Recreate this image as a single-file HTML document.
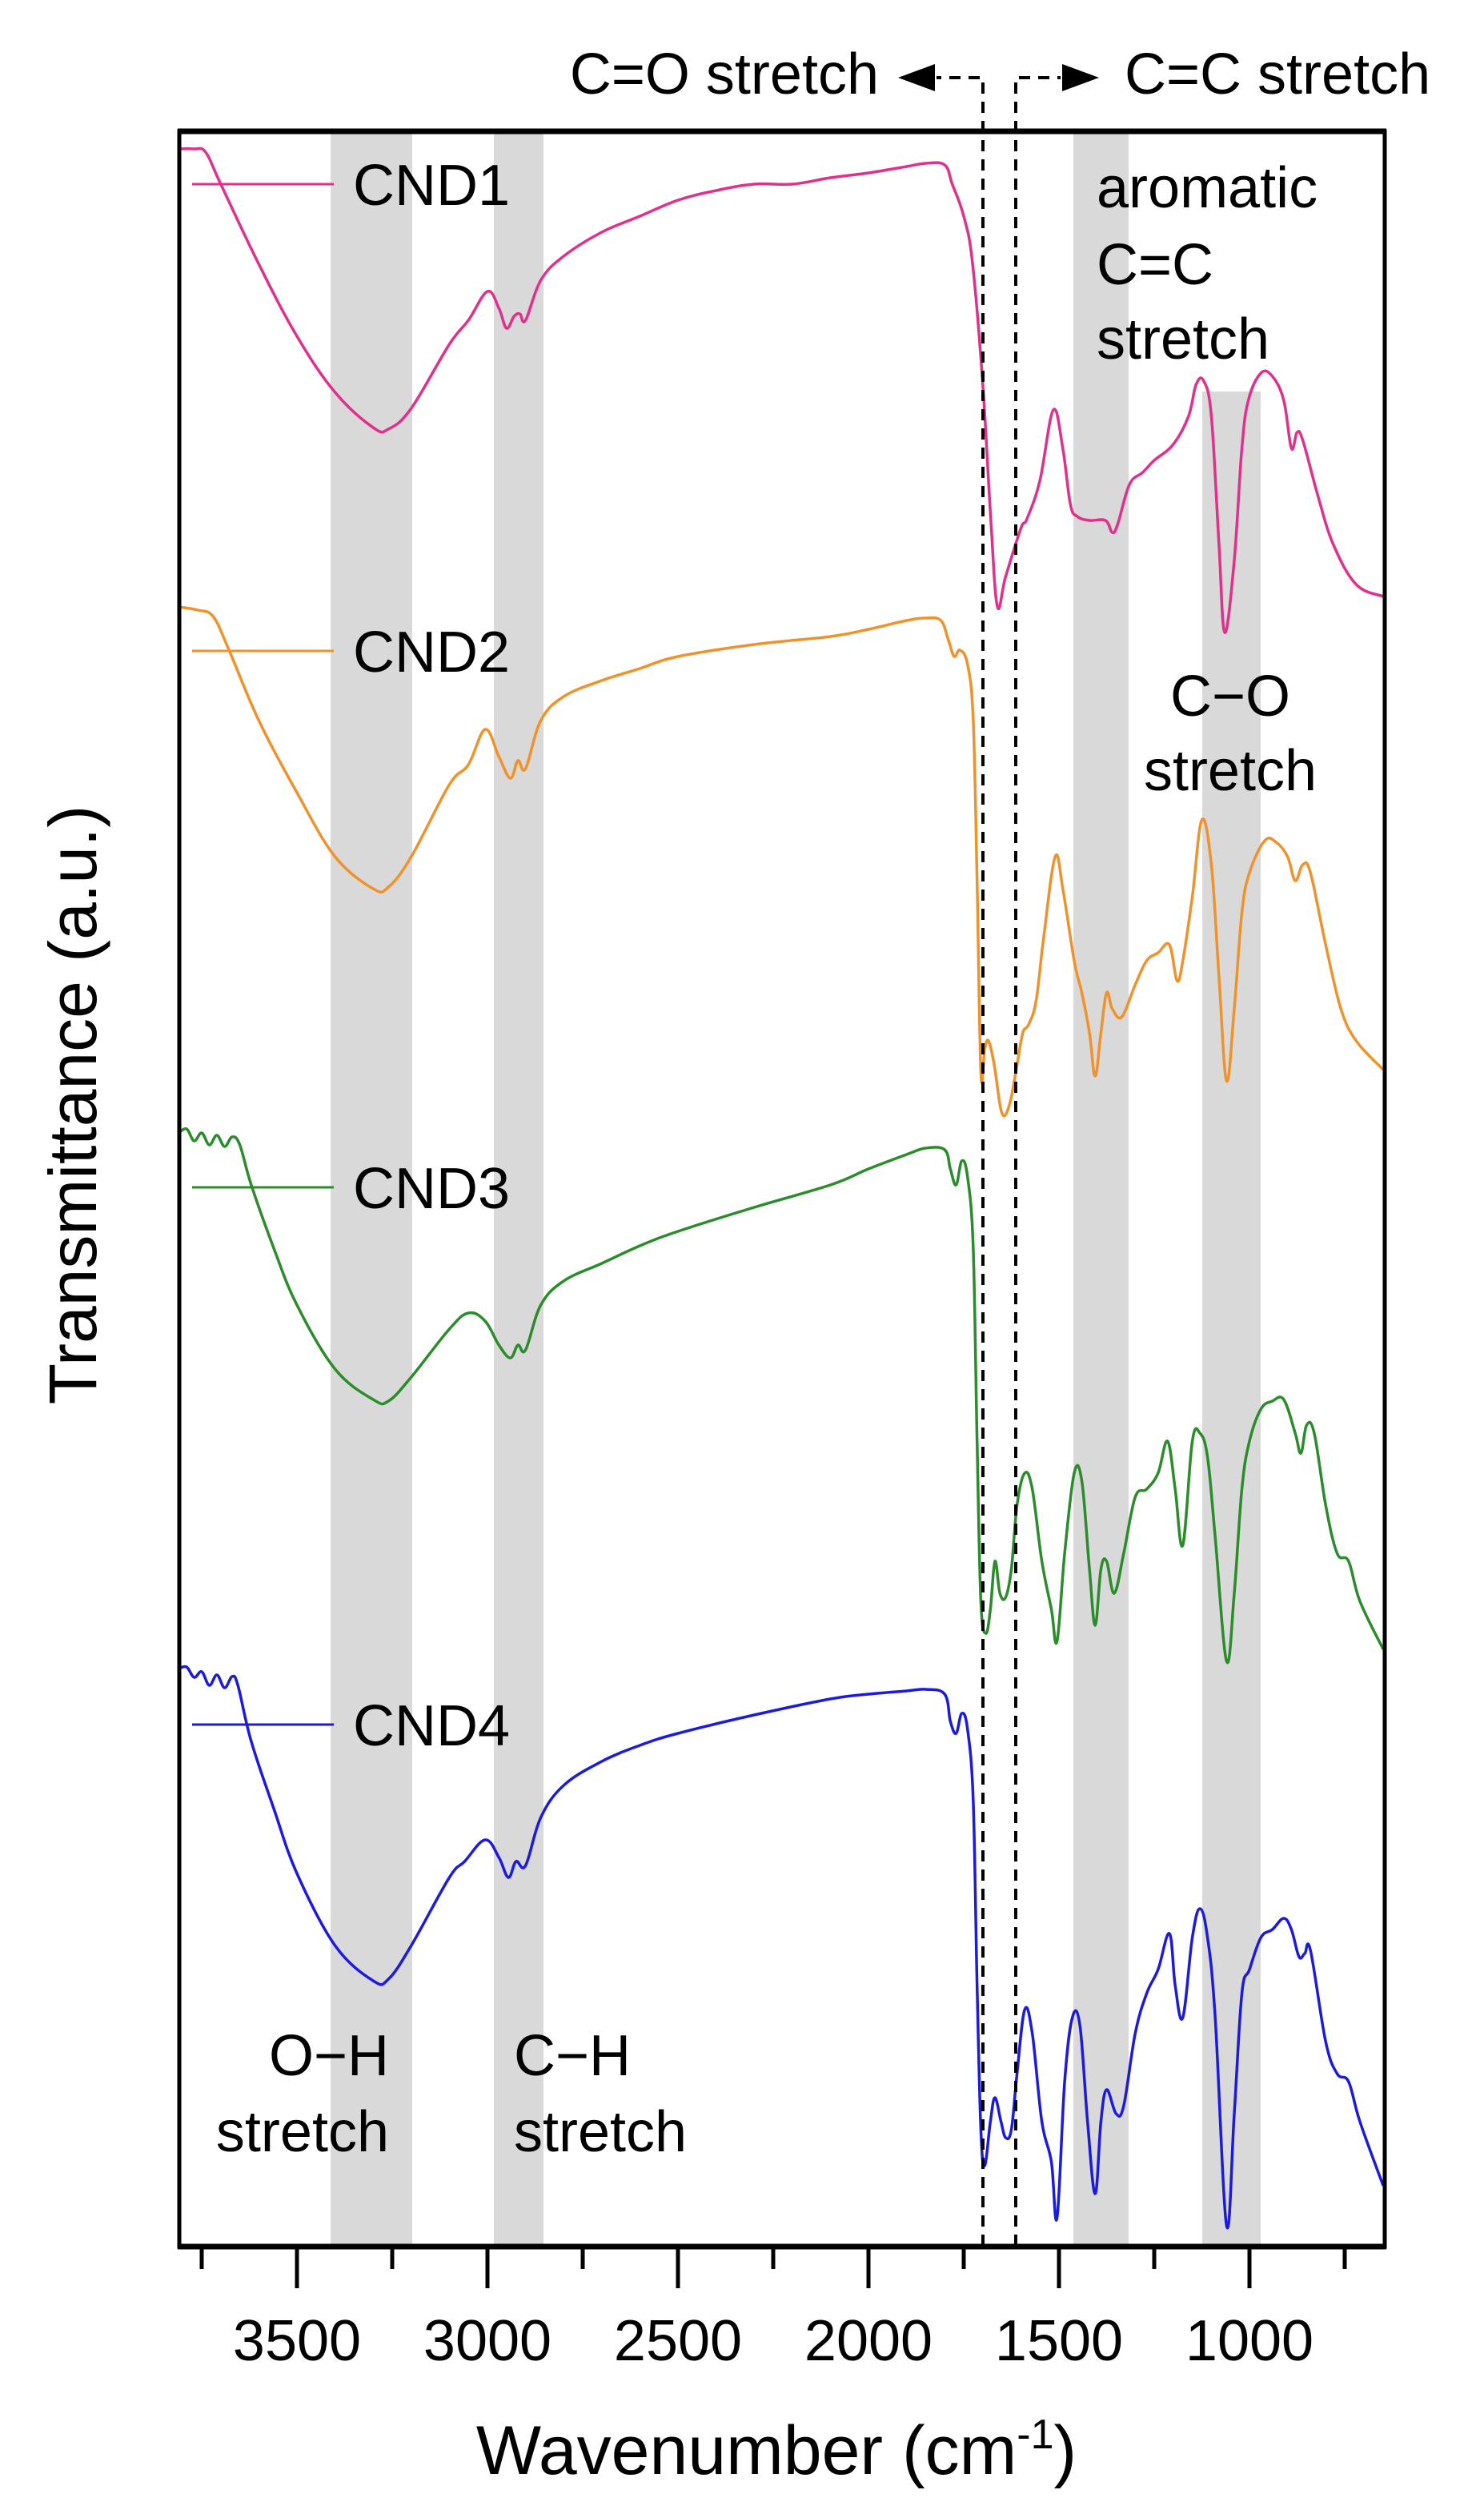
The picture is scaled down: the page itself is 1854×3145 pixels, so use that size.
<!DOCTYPE html>
<html><head><meta charset="utf-8"><style>
html,body{margin:0;padding:0;background:#fff}
svg{display:block}
text{font-family:"Liberation Sans",Arial,sans-serif;fill:#000}
</style></head><body>
<svg id="s" width="1854" height="3145" viewBox="0 0 1854 3145" xmlns="http://www.w3.org/2000/svg">
<rect width="1854" height="3145" fill="#fff"/>
<g fill="#d9d9d9">
<rect x="413" y="166" width="102" height="2639"/>
<rect x="617" y="166" width="62" height="2639"/>
<rect x="1341" y="166" width="69" height="2639"/>
<rect x="1502" y="489" width="73" height="2316"/>
</g>
<g id="curves" fill="none" stroke-width="3.5" stroke-linejoin="round"></g>
<g stroke-width="3">
<line x1="240" y1="230" x2="417" y2="230" stroke="#e0308c"/>
<line x1="240" y1="813" x2="417" y2="813" stroke="#f0922c"/>
<line x1="240" y1="1483" x2="417" y2="1483" stroke="#2a8c2a"/>
<line x1="240" y1="2154" x2="417" y2="2154" stroke="#1a1ae0"/>
</g>
<g font-size="72" fill="#222">
<text x="441" y="256">CND1</text>
<text x="441" y="839">CND2</text>
<text x="441" y="1509">CND3</text>
<text x="441" y="2180">CND4</text>
</g>
<g stroke="#000" stroke-width="4" stroke-dasharray="14,10" fill="none">
<polyline points="1228,2805 1228,97 1170,97"/>
<polyline points="1269,2805 1269,97 1325,97"/>
</g>
<polygon points="1122,97 1168,80 1168,114" fill="#000"/>
<polygon points="1373,97 1327,80 1327,114" fill="#000"/>
<rect x="224" y="164" width="1506" height="2642" fill="none" stroke="#000" stroke-width="5"/>
<line x1="222" y1="164" x2="1732" y2="164" stroke="#000" stroke-width="7"/>
<line x1="222" y1="2806" x2="1732" y2="2806" stroke="#000" stroke-width="7"/>
<g id="ticks" stroke="#000" stroke-width="5"></g>
<g font-size="72">
<text x="1098" y="117" text-anchor="end">C=O stretch</text>
<text x="1405" y="117">C=C stretch</text>
<text x="1370" y="259">aromatic</text>
<text x="1370" y="355">C=C</text>
<text x="1370" y="448">stretch</text>
<text x="1537" y="894" text-anchor="middle">C−O</text>
<text x="1537" y="987" text-anchor="middle">stretch</text>
<text x="486" y="2592" text-anchor="end">O−H</text>
<text x="486" y="2687" text-anchor="end">stretch</text>
<text x="642" y="2592">C−H</text>
<text x="642" y="2687">stretch</text>
</g>
<g font-size="72" text-anchor="middle" id="tl"></g>
<text x="970" y="3090" font-size="86" text-anchor="middle">Wavenumber (cm<tspan dy="-32" font-size="52">-1</tspan><tspan dy="32">)</tspan></text>
<text transform="translate(120,1380) rotate(-90)" font-size="84" text-anchor="middle">Transmittance (a.u.)</text>
</svg>
<script>
var NS="http://www.w3.org/2000/svg";
function X(w){return 1561+(1000-w)*0.476;}
var tk=document.getElementById("ticks"),tl=document.getElementById("tl");
for(var w=3750;w>=750;w-=250){var maj=(w%500==0);var l=document.createElementNS(NS,"line");var x=X(w);
l.setAttribute("x1",x);l.setAttribute("x2",x);l.setAttribute("y1",2806);l.setAttribute("y2",maj?2858:2834);tk.appendChild(l);
if(maj){var t=document.createElementNS(NS,"text");t.setAttribute("x",x);t.setAttribute("y",2948);t.textContent=w;tl.appendChild(t);}}
var data={
"#e0308c":[[3813,186],[3770,186],[3740,190],[3700,230],[3600,330],[3500,420],[3400,490],[3300,534],[3260,536],[3200,510],[3100,430],[3050,400],[3000,364],[2970,385],[2950,410],[2930,395],[2915,392],[2900,400],[2860,350],[2800,320],[2700,290],[2600,270],[2500,250],[2400,238],[2300,230],[2200,230],[2100,222],[2000,216],[1900,208],[1850,204],[1800,206],[1780,230],[1750,270],[1727,328],[1700,480],[1680,640],[1662,757],[1640,720],[1600,660],[1584,648],[1550,600],[1515,512],[1490,560],[1470,630],[1452,645],[1420,650],[1378,650],[1360,665],[1346,655],[1315,605],[1280,590],[1250,575],[1200,555],[1160,520],[1140,480],[1120,476],[1100,520],[1080,680],[1065,790],[1040,700],[1020,560],[1003,500],[970,466],[940,470],[910,500],[890,560],[875,540],[860,550],[820,620],[780,680],[720,730],[649,745]],
"#f0922c":[[3813,758],[3760,762],[3720,770],[3680,810],[3600,900],[3500,990],[3400,1070],[3300,1110],[3260,1108],[3200,1070],[3100,980],[3050,955],[3006,911],[2970,945],[2940,972],[2920,950],[2900,960],[2860,900],[2800,870],[2700,850],[2600,835],[2500,820],[2300,805],[2100,795],[2000,786],[1900,775],[1850,772],[1810,775],[1790,800],[1775,820],[1760,812],[1740,830],[1725,900],[1715,1100],[1705,1340],[1695,1310],[1685,1300],[1670,1330],[1650,1390],[1630,1380],[1610,1330],[1595,1290],[1580,1280],[1560,1250],[1540,1170],[1510,1070],[1490,1110],[1460,1200],[1440,1240],[1420,1290],[1405,1344],[1390,1290],[1375,1240],[1360,1260],[1335,1270],[1300,1230],[1270,1200],[1240,1190],[1210,1180],[1190,1225],[1175,1200],[1150,1120],[1125,1024],[1100,1080],[1080,1220],[1060,1350],[1040,1260],[1020,1140],[1000,1090],[960,1050],[930,1052],[900,1070],[880,1100],[860,1080],[840,1090],[800,1180],[760,1260],[720,1300],[649,1336]],
"#2a8c2a":[[3813,1416],[3790,1410],[3770,1425],[3750,1415],[3730,1430],[3710,1418],[3690,1432],[3670,1420],[3650,1430],[3620,1480],[3560,1560],[3500,1630],[3400,1710],[3300,1748],[3260,1750],[3200,1720],[3100,1660],[3050,1640],[3006,1650],[2970,1680],[2940,1696],[2920,1680],[2900,1686],[2860,1630],[2800,1600],[2700,1578],[2600,1556],[2500,1538],[2300,1508],[2100,1480],[2000,1460],[1900,1442],[1850,1434],[1800,1436],[1785,1460],[1770,1480],[1755,1450],[1740,1470],[1725,1560],[1715,1800],[1705,2000],[1692,2040],[1680,2010],[1668,1950],[1655,1990],[1640,1995],[1625,1960],[1610,1880],[1590,1840],[1570,1860],[1545,1950],[1520,2010],[1505,2050],[1485,1940],[1460,1840],[1440,1850],[1420,1960],[1405,2030],[1390,1960],[1375,1950],[1355,1990],[1330,1940],[1300,1870],[1270,1860],[1240,1840],[1215,1800],[1195,1860],[1175,1930],[1150,1800],[1130,1790],[1110,1820],[1090,1920],[1060,2075],[1040,1990],[1020,1860],[1000,1800],[970,1760],[940,1750],[910,1748],[880,1790],[865,1815],[850,1780],[830,1790],[800,1880],[770,1940],[740,1950],[710,2000],[649,2060]],
"#1a1ae0":[[3813,2085],[3790,2082],[3770,2095],[3750,2088],[3730,2105],[3710,2092],[3690,2108],[3670,2094],[3655,2105],[3620,2175],[3560,2260],[3500,2340],[3400,2430],[3300,2474],[3260,2472],[3200,2430],[3100,2345],[3060,2325],[3006,2298],[2970,2320],[2945,2345],[2925,2325],[2900,2330],[2860,2270],[2800,2230],[2700,2200],[2600,2180],[2500,2165],[2300,2142],[2100,2122],[2000,2116],[1900,2112],[1850,2110],[1800,2116],[1785,2150],[1770,2165],[1755,2140],[1740,2160],[1725,2250],[1715,2480],[1705,2660],[1695,2705],[1680,2650],[1668,2620],[1652,2650],[1640,2670],[1625,2660],[1610,2590],[1590,2510],[1570,2540],[1545,2650],[1520,2700],[1505,2770],[1485,2600],[1465,2520],[1445,2530],[1425,2650],[1405,2740],[1390,2650],[1375,2610],[1350,2640],[1330,2630],[1300,2540],[1270,2490],[1240,2460],[1210,2415],[1195,2480],[1175,2520],[1150,2420],[1130,2384],[1110,2420],[1090,2520],[1060,2780],[1040,2640],[1020,2490],[1000,2460],[970,2420],[940,2410],[910,2396],[890,2410],[870,2444],[855,2440],[840,2436],[800,2550],[770,2590],[740,2600],[710,2650],[649,2730]]
};
var g=document.getElementById("curves");
for(var c in data){var p=data[c],d="";
var pts=p.map(function(q){return [X(q[0]),q[1]];});
d="M"+pts[0][0].toFixed(1)+","+pts[0][1];
for(var i=0;i<pts.length-1;i++){var p0=pts[i-1]||pts[i],p1=pts[i],p2=pts[i+1],p3=pts[i+2]||p2;var t=0.18;
var c1x=p1[0]+(p2[0]-p0[0])*t,c1y=p1[1]+(p2[1]-p0[1])*t,c2x=p2[0]-(p3[0]-p1[0])*t,c2y=p2[1]-(p3[1]-p1[1])*t;
d+=" C"+c1x.toFixed(1)+","+c1y.toFixed(1)+" "+c2x.toFixed(1)+","+c2y.toFixed(1)+" "+p2[0].toFixed(1)+","+p2[1];}
var e=document.createElementNS(NS,"path");e.setAttribute("d",d);e.setAttribute("stroke",c);g.appendChild(e);}
</script>
</body></html>
